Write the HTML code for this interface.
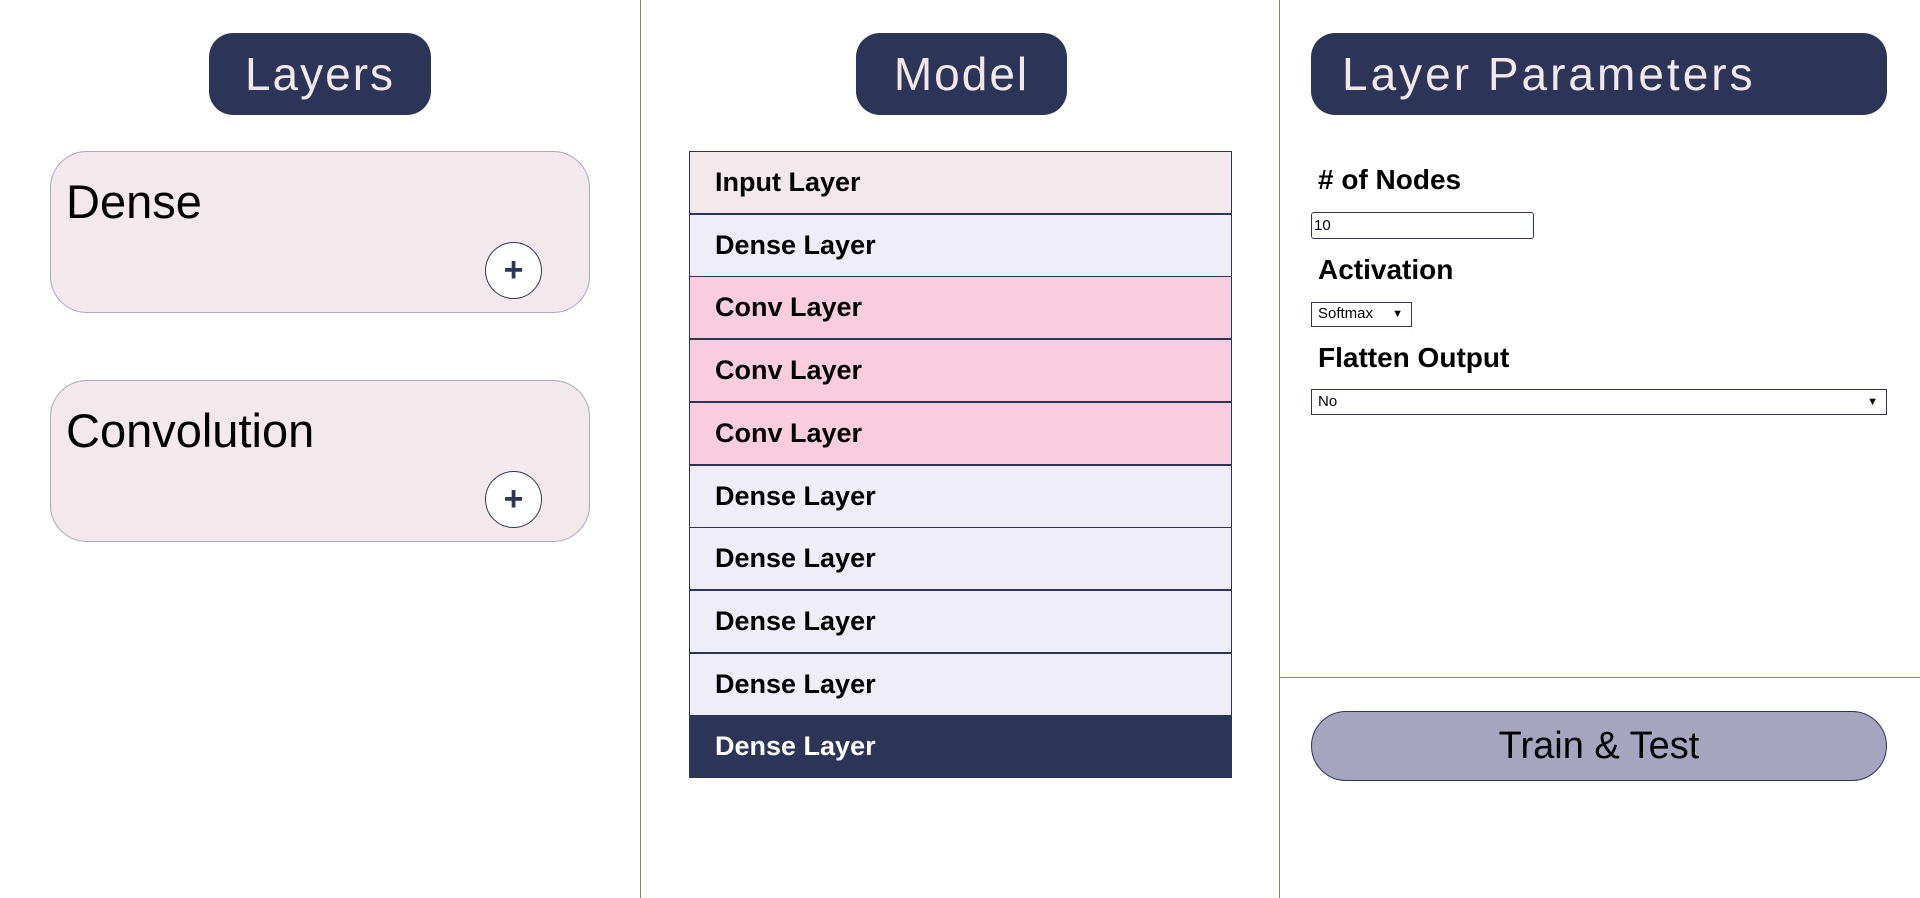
<!DOCTYPE html>
<html><head><meta charset="utf-8"><style>
*{margin:0;padding:0;box-sizing:border-box}
body{width:1920px;height:898px;background:#fff;position:relative;overflow:hidden;font-family:"Liberation Sans",sans-serif}
.abs{position:absolute}
.pill{position:absolute;background:#2c3558;color:#f2e8ec;border-radius:24px;font-size:46px;line-height:82px;letter-spacing:2px}
.card{position:absolute;left:50px;width:540px;height:162px;background:#f3e9ec;border:1px solid #aaa7c2;border-radius:37px}
.card .t{position:absolute;left:15px;top:22px;font-size:47px;color:#000}
.plus{position:absolute;left:434px;top:90px;width:57px;height:57px;border:1.5px solid #2c3558;border-radius:50%;background:#fff;color:#2c3558;font-size:34px;font-weight:bold;text-align:center;line-height:54px}
.row{position:absolute;left:689px;width:543px;height:63px;border:1px solid #2c3558;font-weight:bold;font-size:27px;line-height:60px;padding-left:25px;color:#000}
.lbl{position:absolute;left:1318px;font-weight:bold;font-size:28px;color:#000}
.box{position:absolute;border:1px solid #2c3558;background:#fff;font-size:15px;color:#000;line-height:22px;padding-left:6px}
</style></head><body>
<div class="abs" style="left:640px;top:0;width:1px;height:898px;background:#8c8f4a"></div>
<div class="abs" style="left:1279px;top:0;width:1px;height:898px;background:#8c8f4a"></div>
<div class="abs" style="left:1280px;top:677px;width:640px;height:1px;background:#8c8f4a"></div>

<div class="pill" style="left:209px;top:33px;width:222px;height:82px;text-align:center">Layers</div>
<div class="card" style="top:151px"><div class="t">Dense</div><div class="plus">+</div></div>
<div class="card" style="top:380px"><div class="t">Convolution</div><div class="plus">+</div></div>

<div class="pill" style="left:856px;top:33px;width:211px;height:82px;text-align:center">Model</div>
<div class="row" style="top:151px;background:#f3e9ec">Input Layer</div>
<div class="row" style="top:214px;background:#eeedf8">Dense Layer</div>
<div class="row" style="top:276px;background:#f9cddd">Conv Layer</div>
<div class="row" style="top:339px;background:#f9cddd">Conv Layer</div>
<div class="row" style="top:402px;background:#f9cddd">Conv Layer</div>
<div class="row" style="top:465px;background:#eeedf8">Dense Layer</div>
<div class="row" style="top:527px;background:#eeedf8">Dense Layer</div>
<div class="row" style="top:590px;background:#eeedf8">Dense Layer</div>
<div class="row" style="top:653px;background:#eeedf8">Dense Layer</div>
<div class="row" style="top:715px;height:63px;background:#2c3558;color:#fff">Dense Layer</div>

<div class="pill" style="left:1311px;top:33px;width:576px;height:82px;padding-left:31px;letter-spacing:3px">Layer Parameters</div>
<div class="lbl" style="top:164px"># of Nodes</div>
<div class="box" style="left:1311px;top:212px;width:223px;height:27px;border-radius:3px;padding-left:2px;line-height:25px">10</div>
<div class="lbl" style="top:254px">Activation</div>
<div class="box" style="left:1311px;top:302px;width:101px;height:25px">Softmax <span style="font-size:11px;position:absolute;right:8px">▼</span></div>
<div class="lbl" style="top:342px">Flatten Output</div>
<div class="box" style="left:1311px;top:389px;width:576px;height:26px;line-height:24px">No<span style="font-size:11px;position:absolute;right:8px">▼</span></div>

<div class="abs" style="left:1311px;top:711px;width:576px;height:70px;background:#a5a5c0;border:1px solid #2c3558;border-radius:35px;text-align:center;font-size:38px;line-height:68px;color:#000">Train &amp; Test</div>
</body></html>
